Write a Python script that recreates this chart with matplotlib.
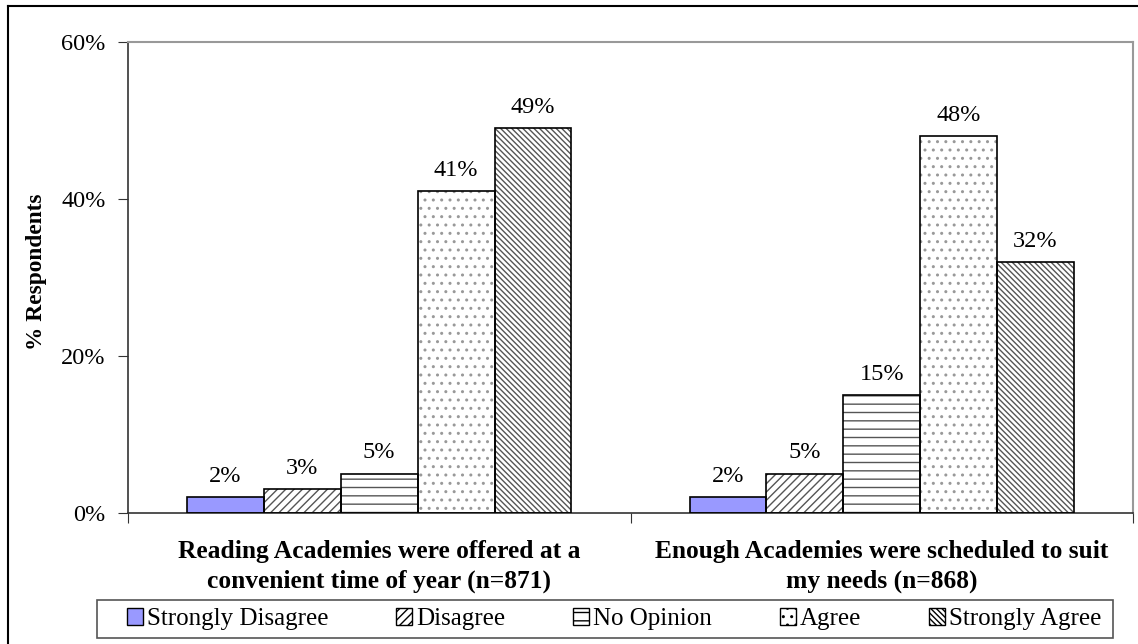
import matplotlib.pyplot as plt
import matplotlib.transforms as mtransforms
import numpy as np
from matplotlib.patches import Patch, Rectangle
from matplotlib.lines import Line2D

plt.rcParams['font.family'] = ['Liberation Serif', 'DejaVu Serif']
plt.rcParams['hatch.linewidth'] = 1.0

cat_line1 = ['Reading Academies were offered at a',
             'Enough Academies were scheduled to suit']
cat_line2 = ['convenient time of year (n=871)',
             'my needs (n=868)']
series = ['Strongly Disagree', 'Disagree', 'No Opinion', 'Agree', 'Strongly Agree']
values = [
    [2, 2],    # Strongly Disagree
    [3, 5],    # Disagree
    [5, 15],   # No Opinion
    [41, 48],  # Agree
    [49, 32],  # Strongly Agree
]
yticks = [0, 20, 40, 60]

fills = ['#9999ff', 'white', 'white', 'white', 'white']
hatches = [None, '////', '--', '..', '\\\\\\\\\\\\']
hcolors = ['#555555', '#555555', '#555555', '#999999', '#555555']

W, H = 1138, 644
fig = plt.figure(figsize=(W / 100, H / 100), dpi=100)
ax = fig.add_axes([128 / W, 1 - 513 / H, 1005 / W, 471 / H])

x = np.arange(len(cat_line1))
w = 0.153
for i, name in enumerate(series):
    pos = x + (i - 2) * w
    # hatch layer in grey, then black outline on top
    ax.bar(pos, values[i], w, color=fills[i], hatch=hatches[i],
           edgecolor=hcolors[i], linewidth=0, zorder=2)
    ax.bar(pos, values[i], w, facecolor='none', edgecolor='black',
           linewidth=1.2, zorder=3)
    for p, v in zip(pos, values[i]):
        ax.annotate('%d%%' % v, (p, v), xytext=(0, 11), textcoords='offset points',
                    ha='center', va='baseline', fontsize=17.5)

ax.set_xlim(-0.5, 1.5)
ax.set_ylim(0, 60)
ax.set_yticks(yticks)
ax.set_yticklabels(['%d%%' % t for t in yticks], fontsize=17.5)
ax.set_xticks([-0.5, 0.5, 1.5])
ax.set_xticklabels([])
ax.tick_params(axis='x', length=7, color='#333333')
ax.tick_params(axis='y', length=7, color='#333333', pad=9)
for s in ['top', 'right']:
    ax.spines[s].set_color('#999999')
    ax.spines[s].set_linewidth(1.5)
for s in ['left', 'bottom']:
    ax.spines[s].set_color('#333333')
    ax.spines[s].set_linewidth(1.2)

# category labels, two lines each
trans = mtransforms.blended_transform_factory(ax.transData, fig.transFigure)
for xi, l1, l2 in zip(x, cat_line1, cat_line2):
    ax.text(xi, 1 - 558 / H, l1, transform=trans, ha='center', va='baseline',
            fontsize=18.4, fontweight='bold')
    ax.text(xi, 1 - 588 / H, l2, transform=trans, ha='center', va='baseline',
            fontsize=18.4, fontweight='bold')

fig.text(37 / W, 1 - 272 / H, '% Respondents', rotation=90, ha='center', va='center',
         fontsize=16.8, fontweight='bold')

handles = [Patch(facecolor=fills[i], hatch=hatches[i], edgecolor='black', linewidth=1)
           for i in range(len(series))]
leg = fig.legend(handles, series, loc='center', mode='expand',
                 bbox_to_anchor=(122 / W, 1 - 638 / H, 984 / W, 38 / H),
                 ncol=5, fontsize=18, frameon=False,
                 handlelength=0.65, handleheight=0.65, handletextpad=0.15,
                 borderpad=0.2, borderaxespad=0)
fig.add_artist(Rectangle((97 / W, 1 - 638 / H), 1016 / W, 38 / H, transform=fig.transFigure,
                         fill=False, edgecolor='#555555', linewidth=1.2))

# outer chart border (left and top visible)
fig.add_artist(Line2D([8 / W, 8 / W], [0, 1 - 6 / H], transform=fig.transFigure,
                      color='black', linewidth=1.5))
fig.add_artist(Line2D([8 / W, 1], [1 - 6 / H, 1 - 6 / H], transform=fig.transFigure,
                      color='black', linewidth=1.5))

fig.savefig('out.png', dpi=100)
